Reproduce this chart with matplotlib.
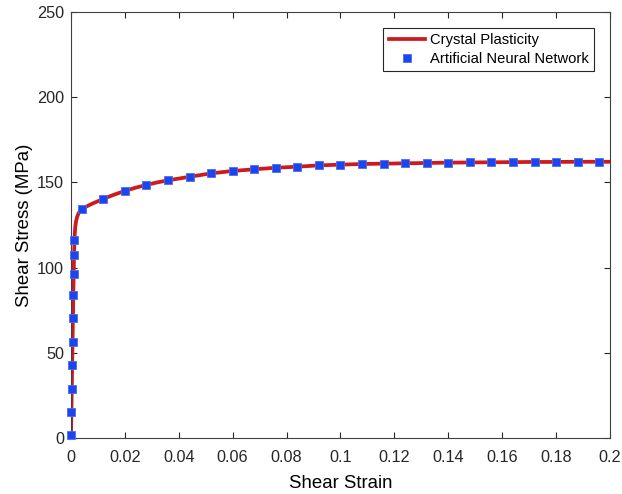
import numpy as np
import matplotlib.pyplot as plt
from matplotlib.ticker import FuncFormatter

# Crystal plasticity curve (solid line)
cp_strain = [0.0, 0.0002, 0.0004, 0.0006, 0.0008, 0.0010, 0.0012, 0.0014, 0.0016,
             0.0019, 0.0023, 0.0028, 0.0034, 0.004, 0.008, 0.012, 0.016, 0.020,
             0.024, 0.028, 0.032, 0.036, 0.044, 0.052, 0.060, 0.068, 0.076,
             0.084, 0.092, 0.100, 0.108, 0.116, 0.124, 0.132, 0.140, 0.148,
             0.156, 0.164, 0.172, 0.180, 0.188, 0.196, 0.200]
cp_stress = [0.0, 19.4, 38.8, 58.2, 77.6, 97.0, 110.5, 119.5, 124.0,
             127.3, 129.8, 131.8, 133.4, 134.5, 137.6, 140.3, 142.8, 145.0,
             146.9, 148.5, 150.0, 151.2, 153.3, 155.3, 156.7, 157.7, 158.6,
             159.2, 160.0, 160.4, 160.8, 161.0, 161.2, 161.4, 161.6, 161.7,
             161.8, 161.9, 162.0, 162.0, 162.1, 162.1, 162.1]

# Artificial neural network predictions (square markers)
ann_strain = [0.00002, 0.00016, 0.00030, 0.00044, 0.00058, 0.00072, 0.00086,
              0.00099, 0.00113, 0.00129,
              0.004, 0.012, 0.020, 0.028, 0.036, 0.044, 0.052, 0.060, 0.068,
              0.076, 0.084, 0.092, 0.100, 0.108, 0.116, 0.124, 0.132, 0.140,
              0.148, 0.156, 0.164, 0.172, 0.180, 0.188, 0.196]
ann_stress = [1.6, 15.1, 28.9, 42.8, 56.3, 70.4, 83.7, 96.2, 107.6, 116.2,
              134.5, 140.3, 145.0, 148.5, 151.2, 153.3, 155.3, 156.7, 157.7,
              158.6, 159.2, 160.0, 160.4, 160.8, 161.0, 161.2, 161.4, 161.6,
              161.7, 161.8, 161.9, 162.0, 162.0, 162.1, 162.1]

x_ticks = [0, 0.02, 0.04, 0.06, 0.08, 0.1, 0.12, 0.14, 0.16, 0.18, 0.2]
y_ticks = [0, 50, 100, 150, 200, 250]

plt.rcParams['font.family'] = ['Liberation Sans', 'DejaVu Sans']

fig = plt.figure(figsize=(6.22, 4.94), dpi=100)
ax = fig.add_axes([0.1141, 0.1134, 0.8666, 0.8623])

ax.plot(cp_strain, cp_stress, color='#cc1a1f', lw=2.7, label='Crystal Plasticity', zorder=2)
ax.plot(ann_strain, ann_stress, ls='none', marker='s', ms=6.4, color='#1c45ee',
        mec='#4a6cf0', mew=0.6, label='Artificial Neural Network', zorder=3,
        clip_on=False)

ax.set_xlim(0, 0.2)
ax.set_ylim(0, 250)
ax.set_xticks(x_ticks)
ax.set_yticks(y_ticks)
ax.xaxis.set_major_formatter(FuncFormatter(lambda v, p: '%g' % round(v, 4)))
ax.tick_params(direction='in', top=True, right=True, length=4, width=0.8,
               labelsize=11.7, colors='#262626')
ax.tick_params(axis='x', pad=9)
ax.tick_params(axis='y', pad=5)
for s in ax.spines.values():
    s.set_color('#404040')
    s.set_linewidth(0.8)

ax.set_xlabel('Shear Strain', fontsize=13.4, labelpad=7)
ax.set_ylabel('Shear Stress (MPa)', fontsize=13.4, labelpad=3)

leg = ax.legend(loc='upper right', bbox_to_anchor=(0.970, 0.962), borderaxespad=0,
                fancybox=False, edgecolor='#262626', fontsize=10.6, handlelength=2.5,
                handletextpad=0.3, framealpha=1, borderpad=0.35, labelspacing=0.3)
leg.get_frame().set_linewidth(0.8)

fig.savefig('out.png', dpi=100)
